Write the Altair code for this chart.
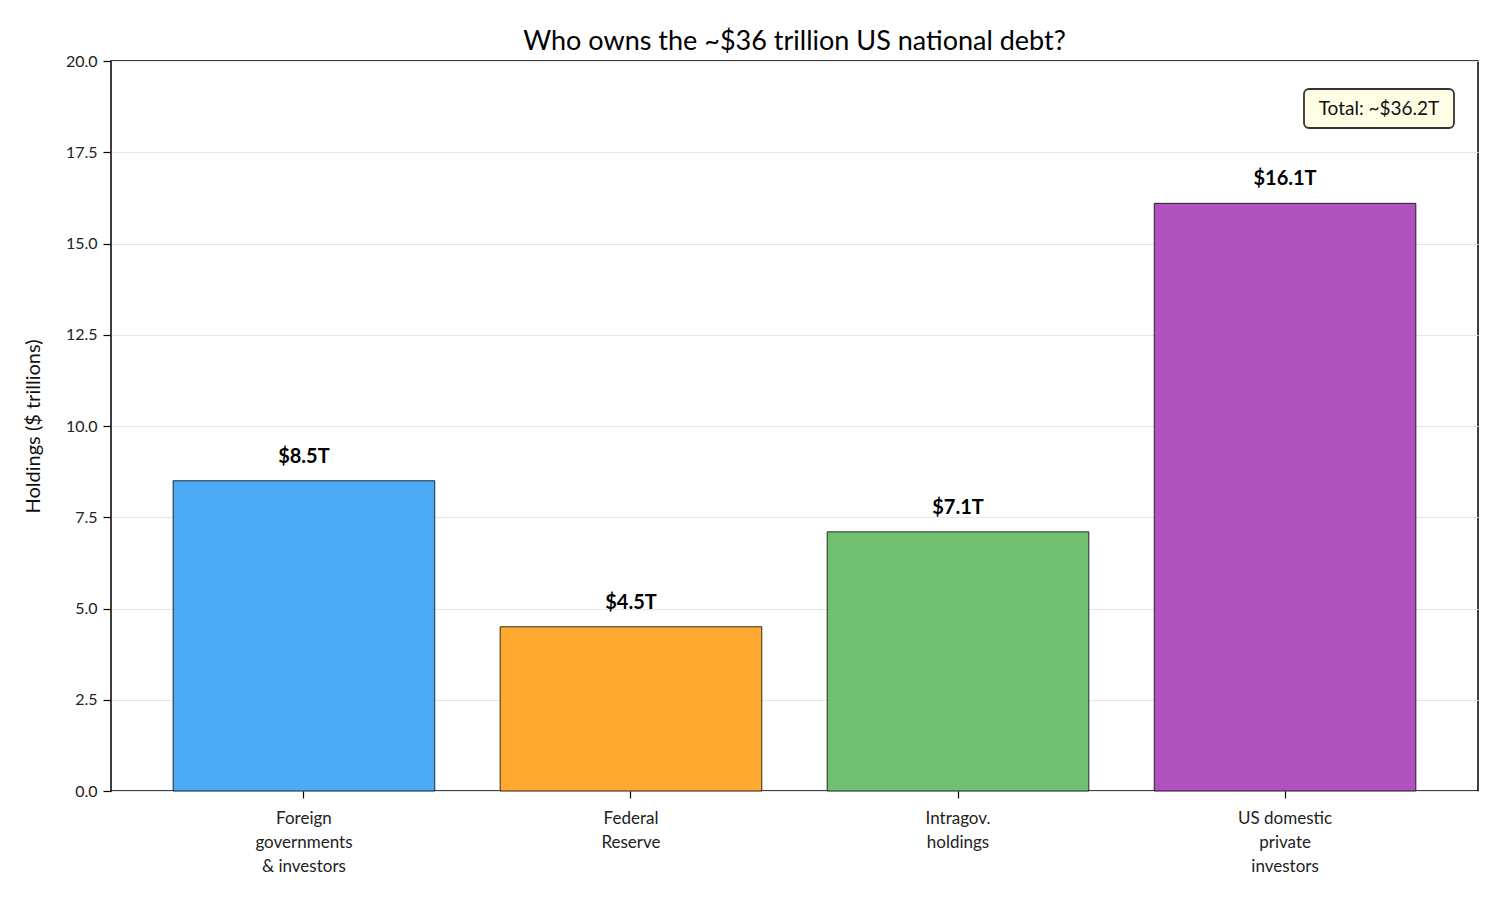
import altair as alt
import pandas as pd

# Holders of US national debt, in trillions of dollars
holders = ["Foreign|governments|& investors", "Federal|Reserve", "Intragov.|holdings", "US domestic|private|investors"]
holdings = [8.5, 4.5, 7.1, 16.1]
colors = ["#4dabf5", "#ffa931", "#71bf71", "#b052be"]
labels = ["$8.5T", "$4.5T", "$7.1T", "$16.1T"]
y_ticks = [0, 2.5, 5, 7.5, 10, 12.5, 15, 17.5, 20]
total_label = "Total: ~$36.2T"

FONT = "Lato"

df = pd.DataFrame({"holder": holders, "value": holdings, "label": labels, "color": colors})

x_enc = alt.X(
    "holder:N",
    sort=holders,
    title=None,
    scale=alt.Scale(paddingInner=0.2, paddingOuter=0.19),
    axis=alt.Axis(
        labelAngle=0,
        labelExpr="split(datum.label, '|')",
        labelFontSize=17,
        labelColor="#222222",
        labelFont=FONT,
        labelPadding=12,
        labelLineHeight=24,
        tickSize=7,
        tickColor="black",
        tickWidth=1.2,
        domain=False,
        grid=False,
    ),
)
y_enc = alt.Y(
    "value:Q",
    title="Holdings ($ trillions)",
    scale=alt.Scale(domain=[0, 20], nice=False),
    axis=alt.Axis(
        values=y_ticks,
        format=".1f",
        labelFontSize=16,
        labelColor="#222222",
        labelFont=FONT,
        labelPadding=6,
        titleFont=FONT,
        titleFontSize=20,
        titleFontWeight="normal",
        titleColor="#111111",
        titlePadding=22,
        tickSize=8,
        tickColor="black",
        tickWidth=1.2,
        domain=False,
        grid=True,
        gridColor="#e6e6e6",
        gridWidth=1,
    ),
)

bars = alt.Chart(df).mark_bar(stroke="black", strokeWidth=0.8).encode(
    x=x_enc,
    y=y_enc,
    color=alt.Color("color:N", scale=None),
)

value_text = alt.Chart(df).mark_text(
    font=FONT, fontSize=20, fontWeight="bold", color="black", baseline="middle", dy=-24
).encode(
    x=alt.X("holder:N", sort=holders),
    y="value:Q",
    text="label:N",
)

# Total annotation box in the upper right corner
box = alt.Chart(pd.DataFrame({"t": [total_label]})).mark_rect(
    fill="#fffde3", stroke="#333333", strokeWidth=1.8, cornerRadius=5
).encode(
    x=alt.value(1193), x2=alt.value(1343), y=alt.value(28), y2=alt.value(67)
)
box_text = alt.Chart(pd.DataFrame({"t": [total_label]})).mark_text(
    font=FONT, fontSize=19, color="#111111", align="center", baseline="middle"
).encode(
    x=alt.value(1268), y=alt.value(48), text="t:N"
)

chart = alt.layer(bars, value_text, box, box_text).properties(
    width=1367,
    height=730,
    title=alt.TitleParams(
        "Who owns the ~$36 trillion US national debt?",
        font=FONT, fontSize=27, fontWeight="normal", color="black", offset=-3, anchor="middle",
    ),
    autosize=alt.AutoSizeParams(type="none"),
    padding={"left": 111, "top": 61, "right": 22, "bottom": 109},
).configure(
    background="white",
    view=alt.ViewConfig(stroke="black", strokeWidth=1.5),
)

chart.save("out.html", embed_options={"renderer": "svg", "actions": False})
